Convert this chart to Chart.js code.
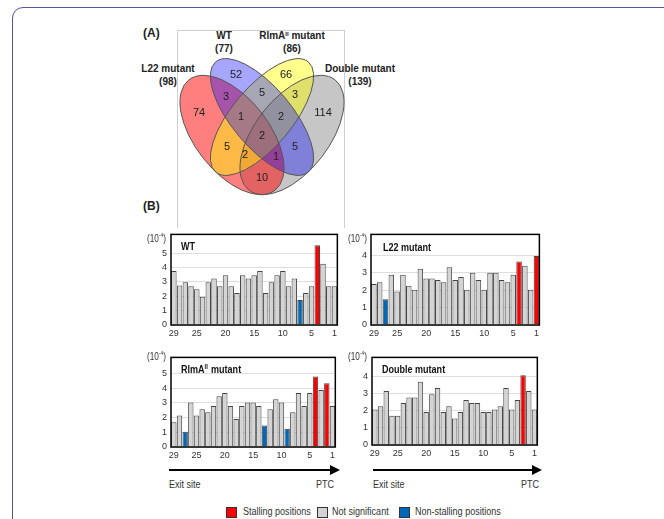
<!DOCTYPE html>
<html>
<head>
<meta charset="utf-8">
<script src="https://cdn.jsdelivr.net/npm/chart.js@4.4.1/dist/chart.umd.min.js"></script>
<style>
  body { margin: 0; background: #fff; font-family: "Liberation Sans", Arial, sans-serif; color: #222; }
  #page { position: relative; width: 664px; height: 519px; overflow: hidden; }
  .frame { position: absolute; left: 12px; top: 7px; width: 700px; height: 600px; border: 1px solid #55559a; border-radius: 11px; }
  .vbox { position: absolute; left: 177px; top: 30px; width: 166px; height: 197px; border: 1px solid #cfcfcf; border-bottom: none; }
  canvas { position: absolute; }
  .abs { position: absolute; white-space: nowrap; }
  .narrow { transform: scaleX(0.82); transform-origin: 0 0; }
  .panel { font-weight: bold; font-size: 12px; }
  .setlbl { font-weight: bold; font-size: 10px; width: 120px; text-align: center; line-height: 13px; }
  .unit { font-size: 10px; color: #333; }
  .unit sup, .setlbl sup { font-size: 6px; vertical-align: top; position: relative; top: -1px; }
  .axisTxt { font-size: 11px; color: #333; }
  .arrow { position: absolute; height: 2px; background: #000; }
  .head { position: absolute; width: 0; height: 0; border-left: 10px solid #000; border-top: 5px solid transparent; border-bottom: 5px solid transparent; }
  .key { position: absolute; width: 9px; height: 9px; border: 1px solid #333; }
  .keyTxt { font-size: 11px; color: #333; }
</style>
</head>
<body>
<div id="page">
  <div class="frame"></div>
  <div class="vbox"></div>

  <div class="abs panel" style="left:143px;top:26px">(A)</div>
  <div class="abs panel" style="left:143px;top:199px">(B)</div>

  <div class="abs setlbl" style="left:164px;top:29px">WT<br>(77)</div>
  <div class="abs setlbl" style="left:232px;top:29px">RlmA<sup>II</sup> mutant<br>(86)</div>
  <div class="abs setlbl" style="left:108px;top:62px">L22 mutant<br>(98)</div>
  <div class="abs setlbl" style="left:300px;top:62px">Double mutant<br>(139)</div>

  <canvas id="venn" width="280" height="215" style="left:130px;top:20px"></canvas>

  <canvas id="chartWT" width="200" height="114" style="left:140px;top:225px"></canvas>
  <canvas id="chartL22" width="202" height="114" style="left:340px;top:225px"></canvas>
  <canvas id="chartRlmA" width="198" height="113" style="left:140px;top:348px"></canvas>
  <canvas id="chartDouble" width="199" height="111" style="left:341px;top:348px"></canvas>

  <div class="abs unit narrow" style="left:147px;top:233px">(10<sup>-4</sup>)</div>
  <div class="abs unit narrow" style="left:348px;top:233px">(10<sup>-4</sup>)</div>
  <div class="abs unit narrow" style="left:147px;top:351px">(10<sup>-4</sup>)</div>
  <div class="abs unit narrow" style="left:348px;top:351px">(10<sup>-4</sup>)</div>

  <div class="arrow" style="left:169px;top:469px;width:162px"></div>
  <div class="head" style="left:330px;top:465px"></div>
  <div class="abs axisTxt narrow" style="left:169px;top:478px">Exit site</div>
  <div class="abs axisTxt narrow" style="left:316px;top:478px">PTC</div>

  <div class="arrow" style="left:373px;top:469px;width:160px"></div>
  <div class="head" style="left:532px;top:465px"></div>
  <div class="abs axisTxt narrow" style="left:373px;top:478px">Exit site</div>
  <div class="abs axisTxt narrow" style="left:521px;top:478px">PTC</div>

  <div class="key" style="left:226px;top:507px;background:#ff0000"></div>
  <div class="abs keyTxt narrow" style="left:243px;top:505px">Stalling positions</div>
  <div class="key" style="left:317px;top:507px;background:#d4d4d4"></div>
  <div class="abs keyTxt narrow" style="left:332px;top:505px">Not significant</div>
  <div class="key" style="left:399px;top:507px;background:#0068b8"></div>
  <div class="abs keyTxt narrow" style="left:415px;top:505px">Non-stalling positions</div>
</div>

<script>
// ---- data ----
// Venn: regions and counts
const vennRegions = ["L22", "WT", "RlmA", "Double", "L22+WT", "WT+RlmA", "RlmA+Double",
  "L22+WT+RlmA", "WT+RlmA+Double", "L22+RlmA", "All", "WT+Double",
  "L22+RlmA+Double", "L22+WT+Double", "L22+Double"];
const vennCounts = [74, 52, 66, 114, 3, 5, 3, 1, 2, 5, 2, 5, 2, 1, 10];

// bar charts: positions from exit site (29) to PTC (1)
const positions = [29, 28, 27, 26, 25, 24, 23, 22, 21, 20, 19, 18, 17, 16, 15,
  14, 13, 12, 11, 10, 9, 8, 7, 6, 5, 4, 3, 2, 1];
const xTickLabels = [29, 25, 20, 15, 10, 5, 1];
const yTicksWT = [0, 1, 2, 3, 4, 5];
const yTicksL22 = [0, 1, 2, 3, 4];
const yTicksRlmA = [0, 1, 2, 3, 4, 5];
const yTicksDouble = [0, 1, 2, 3, 4];

const wtValues = [3.75, 2.75, 2.97, 2.7, 2.48, 1.96, 2.97, 3.24, 2.7, 3.46, 2.7, 2.23, 3.46, 3.24, 3.46,
  3.75, 2.23, 2.97, 3.46, 3.75, 2.7, 3.24, 1.74, 2.23, 2.7, 5.54, 4.26, 2.7, 2.7];
const l22Values = [2.35, 2.44, 1.47, 2.88, 1.91, 2.88, 2.24, 2.02, 3.21, 2.66, 2.66, 2.57, 2.44, 3.3, 2.57,
  2.75, 2.02, 2.99, 2.57, 2.02, 2.99, 2.99, 2.57, 2.44, 2.88, 3.63, 3.39, 2.02, 3.94];
const rlmaValues = [1.69, 2.15, 1.03, 3.03, 2.15, 2.57, 2.37, 2.79, 3.46, 3.68, 2.79, 1.91, 2.79, 3.03, 3.03,
  2.79, 1.47, 2.57, 3.25, 3.03, 1.25, 2.37, 3.68, 2.79, 3.68, 4.8, 3.88, 4.34, 2.79];
const doubleValues = [2.06, 2.24, 3.13, 1.69, 1.69, 2.43, 2.76, 2.76, 3.67, 1.91, 2.94, 3.31, 1.91, 2.24, 1.54,
  1.91, 2.61, 2.43, 2.43, 1.91, 1.91, 2.06, 2.24, 3.31, 2.06, 2.61, 4.04, 3.13, 2.06];

const wtStalling = [4], wtNonStalling = [7];
const l22Stalling = [4, 1], l22NonStalling = [27];
const rlmaStalling = [4, 2], rlmaNonStalling = [27, 13, 9];
const doubleStalling = [3], doubleNonStalling = [];

// ---- style / layout ----
const RED = "#ff0000", BLUE = "#0068b8", GRAY = "#d4d4d4";
Chart.defaults.font.family = '"Liberation Sans", Arial, sans-serif';
Chart.defaults.color = "#333";

// ellipse geometry in page pixels (drawn in this order)
const ellipses = [
  { cx: 292, cy: 135, a: 70, b: 37, rot: -52, color: "rgb(128,128,128)", alpha: 0.45 }, // Double
  { cx: 232, cy: 135, a: 70, b: 37, rot: 52, color: "rgb(255,0,0)", alpha: 0.5 },      // L22
  { cx: 262, cy: 117, a: 72, b: 30, rot: -50, color: "rgb(255,255,0)", alpha: 0.45 },   // RlmA
  { cx: 262, cy: 117, a: 72, b: 30, rot: 50, color: "rgb(0,0,255)", alpha: 0.35 }       // WT
];
const vennLabelPos = [
  [199, 113], [236, 75], [286, 75], [323, 113], [226, 97], [262, 93], [295, 95],
  [241, 117], [281, 117], [227, 147], [262, 136], [295, 147], [245, 155], [276, 157], [262, 178]
];

function ellipsePath(ctx, sx, sy, e) {
  ctx.beginPath();
  ctx.ellipse(sx.getPixelForValue(e.cx), sy.getPixelForValue(e.cy),
    sx.getPixelForValue(e.cx + e.a) - sx.getPixelForValue(e.cx),
    sx.getPixelForValue(e.cx + e.b) - sx.getPixelForValue(e.cx),
    e.rot * Math.PI / 180, 0, Math.PI * 2);
}

const vennPlugin = {
  id: "venn",
  beforeDatasetsDraw(chart) {
    const { ctx, scales } = chart;
    ctx.save();
    ellipses.forEach(e => {
      ellipsePath(ctx, scales.x, scales.y, e);
      ctx.globalAlpha = e.alpha;
      ctx.fillStyle = e.color;
      ctx.fill();
    });
    ctx.globalAlpha = 1;
    ctx.strokeStyle = "#555";
    ctx.lineWidth = 1;
    ellipses.forEach(e => {
      ellipsePath(ctx, scales.x, scales.y, e);
      ctx.stroke();
    });
    ctx.restore();
  },
  afterDatasetsDraw(chart) {
    const { ctx } = chart;
    const meta = chart.getDatasetMeta(0);
    ctx.save();
    ctx.font = '11px "Liberation Sans", Arial, sans-serif';
    ctx.fillStyle = "#222";
    ctx.textAlign = "center";
    ctx.textBaseline = "middle";
    meta.data.forEach((pt, i) => {
      ctx.fillText(String(vennCounts[i]), pt.x, pt.y);
    });
    ctx.restore();
  }
};

new Chart(document.getElementById("venn"), {
  type: "scatter",
  data: {
    datasets: [{
      label: "Venn",
      data: vennCounts.map((c, i) => ({ x: vennLabelPos[i][0], y: vennLabelPos[i][1], region: vennRegions[i] })),
      pointRadius: 0
    }]
  },
  options: {
    responsive: false,
    animation: false,
    layout: { padding: 0 },
    plugins: { legend: { display: false }, tooltip: { enabled: false } },
    scales: {
      x: { type: "linear", min: 130, max: 410, display: false },
      y: { type: "linear", min: 20, max: 235, reverse: true, display: false }
    }
  },
  plugins: [vennPlugin]
});

// box + inner title for the bar panels
const boxPlugin = {
  id: "box",
  afterDraw(chart, args, opts) {
    const { ctx, chartArea: a } = chart;
    ctx.save();
    ctx.strokeStyle = "#000";
    ctx.lineWidth = 1.5;
    ctx.strokeRect(a.left, a.top, a.right - a.left, a.bottom - a.top);
    ctx.translate(a.left + opts.dx, a.top + opts.dy);
    ctx.scale(0.82, 1);
    let x = 0;
    ctx.fillStyle = "#111";
    ctx.textBaseline = "middle";
    opts.title.forEach(seg => {
      ctx.font = seg.sup ? 'bold 7px "Liberation Sans", Arial, sans-serif'
                         : 'bold 11px "Liberation Sans", Arial, sans-serif';
      ctx.fillText(seg.t, x, seg.sup ? -3 : 0);
      x += ctx.measureText(seg.t).width + (seg.sup ? 1 : 0);
    });
    ctx.restore();
  }
};

function makeBars(id, title, values, stalling, nonStalling, yMax, yTicks, dx, dy) {
  const colors = positions.map(p => stalling.includes(p) ? RED : (nonStalling.includes(p) ? BLUE : GRAY));
  return new Chart(document.getElementById(id), {
    type: "bar",
    data: {
      labels: positions,
      datasets: [{
        data: values,
        backgroundColor: colors,
        borderColor: "#444",
        borderWidth: 1,
        barPercentage: 0.95,
        categoryPercentage: 1
      }]
    },
    options: {
      responsive: false,
      animation: false,
      layout: { padding: { top: 6, right: 1, left: 0, bottom: 0 } },
      plugins: {
        legend: { display: false },
        tooltip: { enabled: false },
        box: { title: title, dx: dx, dy: dy }
      },
      scales: {
        x: {
          grid: { display: false, drawTicks: false },
          border: { display: false },
          ticks: {
            autoSkip: false, maxRotation: 0, padding: 3, font: { size: 9 },
            callback: (v, i) => xTickLabels.includes(positions[i]) ? String(positions[i]) : ""
          },
          afterFit: s => { s.height = 14; }
        },
        y: {
          min: 0, max: yMax,
          grid: { color: "#dedede", drawTicks: false },
          border: { display: false },
          ticks: { padding: 4, font: { size: 9 } },
          afterBuildTicks: s => { s.ticks = yTicks.map(v => ({ value: v })); },
          afterFit: s => { s.width = 31; }
        }
      }
    },
    plugins: [boxPlugin]
  });
}

makeBars("chartWT", [{ t: "WT" }], wtValues, wtStalling, wtNonStalling, 6.3, yTicksWT, 10, 13);
makeBars("chartL22", [{ t: "L22 mutant" }], l22Values, l22Stalling, l22NonStalling, 5.18, yTicksL22, 12, 14);
makeBars("chartRlmA", [{ t: "RlmA" }, { t: "II", sup: true }, { t: " mutant" }], rlmaValues, rlmaStalling, rlmaNonStalling, 6.1, yTicksRlmA, 10, 13);
makeBars("chartDouble", [{ t: "Double mutant" }], doubleValues, doubleStalling, doubleNonStalling, 5.08, yTicksDouble, 10, 13);
</script>
</body>
</html>
